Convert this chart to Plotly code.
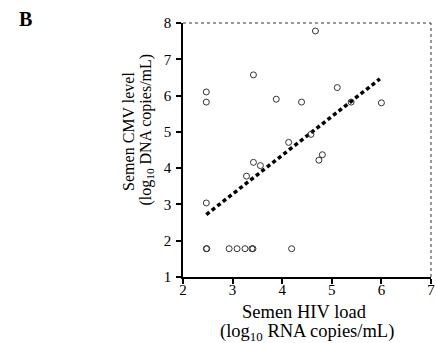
import plotly.graph_objects as go

# Semen HIV load vs semen CMV level (log10 scale values)
hiv_load = [2.47, 2.47, 2.47, 3.42, 3.88, 4.39, 4.67, 5.11, 5.39, 6.00,
            4.13, 4.58, 4.74, 4.81, 3.42, 3.56, 3.28,
            2.47, 2.48, 2.93, 3.09, 3.25, 3.39, 3.41, 4.19]
cmv_level = [6.10, 5.82, 3.04, 6.57, 5.90, 5.82, 7.78, 6.22, 5.82, 5.80,
             4.71, 4.93, 4.22, 4.37, 4.16, 4.07, 3.78,
             1.78, 1.78, 1.78, 1.78, 1.78, 1.78, 1.78, 1.78]

# Regression line end points
fit_x = [2.47, 5.97]
fit_y = [2.72, 6.46]

x_ticks = [2, 3, 4, 5, 6, 7]
y_ticks = [1, 2, 3, 4, 5, 6, 7, 8]

serif = "Liberation Serif"

fig = go.Figure()
fig.add_trace(go.Scatter(
    x=fit_x, y=fit_y, mode="lines",
    line=dict(color="black", width=3.5, dash="4px,3px"),
    hoverinfo="skip", showlegend=False,
))
fig.add_trace(go.Scatter(
    x=hiv_load, y=cmv_level, mode="markers",
    marker=dict(symbol="circle-open", size=6, color="#333333",
                line=dict(width=1, color="#333333")),
    showlegend=False,
))

axis_common = dict(
    showgrid=False, zeroline=False,
    showline=True, linecolor="black", linewidth=1.5,
    ticks="outside", ticklen=5, tickwidth=2, tickcolor="black",
    tickfont=dict(family=serif, size=15, color="black"),
    ticklabeloverflow="allow",
)

fig.update_xaxes(range=[2, 7], tickvals=x_ticks, ticklabelstandoff=-7, **axis_common)
fig.update_yaxes(range=[1, 8], tickvals=y_ticks, ticklabelstandoff=2, **axis_common)

# Thin dotted frame on top and right
fig.add_shape(type="line", xref="paper", yref="paper", x0=0, x1=1, y0=1, y1=1,
              line=dict(color="#333333", width=1, dash="dot"))
fig.add_shape(type="line", xref="paper", yref="paper", x0=1, x1=1, y0=0, y1=1,
              line=dict(color="#333333", width=1, dash="dot"))

# Axis titles, one annotation per line
title_lines = [
    ("Semen CMV level", -0.218, 0.575, -90, 16),
    ("(log<sub>10</sub> DNA copies/mL)", -0.147, 0.579, -90, 16),
    ("Semen HIV load", 0.488, -0.138, 0, 18.5),
    ("(log<sub>10</sub> RNA copies/mL)", 0.502, -0.217, 0, 18.5),
]
for text, ax, ay, angle, fsize in title_lines:
    fig.add_annotation(
        text=text, xref="paper", yref="paper", x=ax, y=ay,
        xanchor="center", yanchor="middle", textangle=angle, showarrow=False,
        font=dict(family=serif, size=fsize, color="black"),
    )

fig.add_annotation(
    text="<b>B</b>", xref="paper", yref="paper", x=-0.635, y=1.016,
    xanchor="center", yanchor="middle", showarrow=False,
    font=dict(family=serif, size=20, color="black"),
)

fig.update_layout(
    width=437, height=343,
    margin=dict(l=183, r=2, t=23, b=66),
    paper_bgcolor="white", plot_bgcolor="white",
)

fig.write_html("out.html")
